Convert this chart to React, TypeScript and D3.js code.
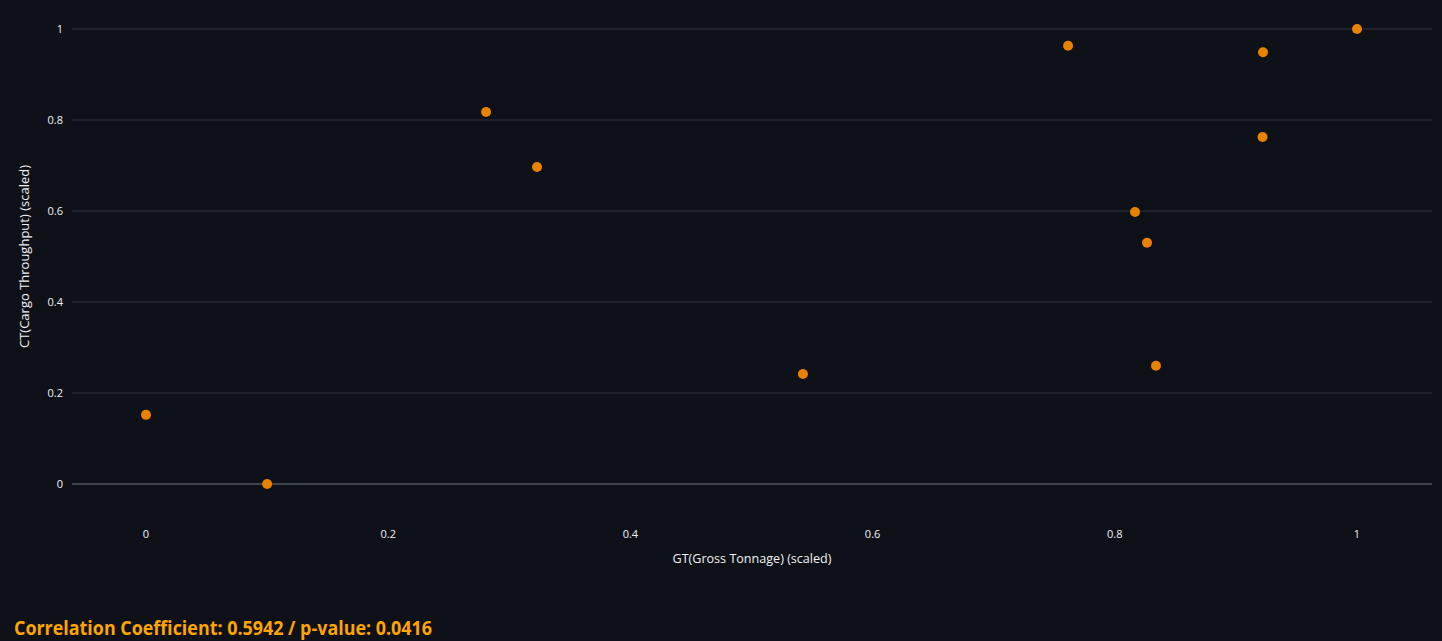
import React from "react";
import * as d3 from "d3";

const gtScaled = [0, 0.1, 0.2808, 0.3229, 0.5425, 0.7614, 0.8167, 0.8266, 0.834, 0.9224, 0.922, 1];
const ctScaled = [0.152, 0, 0.8176, 0.6967, 0.2418, 0.9633, 0.5978, 0.5303, 0.26, 0.9488, 0.7626, 1];
const xTicks = [0, 0.2, 0.4, 0.6, 0.8, 1];
const yTicks = [0, 0.2, 0.4, 0.6, 0.8, 1];
const xTitle = "GT(Gross Tonnage) (scaled)";
const yTitle = "CT(Cargo Throughput) (scaled)";
const caption = "Correlation Coefficient: 0.5942 / p-value: 0.0416";

const W = 1442;
const H = 641;
const FONT = "'Source Sans Pro', 'Open Sans', 'Noto Sans', sans-serif";

export default function App() {
  const x = d3.scaleLinear().domain([0, 1]).range([146, 1357]);
  const y = d3.scaleLinear().domain([0, 1]).range([484, 29]);
  const plotLeft = 72;
  const plotRight = 1432;
  const fmt = (v: number) => d3.format("~g")(v);
  return (
    <svg
      width={W}
      height={H}
      style={{ position: "absolute", left: 0, top: 0, background: "#0e1117", display: "block" }}
    >
      <rect x={0} y={0} width={W} height={H} fill="#0e1117" />
      {yTicks.map((t) => (
        <g key={"y" + t}>
          <line
            x1={plotLeft}
            x2={plotRight}
            y1={y(t)}
            y2={y(t)}
            stroke={t === 0 ? "#40424d" : "#31333f"}
            strokeWidth={t === 0 ? 2 : 1}
          />
          <text
            x={63}
            y={y(t)}
            dy="0.35em"
            textAnchor="end"
            fontFamily={FONT}
            fontSize={11}
            fill="#f0f2f6"
          >
            {fmt(t)}
          </text>
        </g>
      ))}
      {xTicks.map((t) => (
        <text
          key={"x" + t}
          x={x(t)}
          y={534}
          dy="0.35em"
          textAnchor="middle"
          fontFamily={FONT}
          fontSize={11}
          fill="#f0f2f6"
        >
          {fmt(t)}
        </text>
      ))}
      <text
        x={(plotLeft + plotRight) / 2}
        y={558}
        dy="0.35em"
        textAnchor="middle"
        fontFamily={FONT}
        fontSize={13}
        fill="#f0f2f6"
        textLength={159}
        lengthAdjust="spacingAndGlyphs"
      >
        {xTitle}
      </text>
      <text
        transform={`translate(24, ${(29 + 484) / 2}) rotate(-90)`}
        dy="0.35em"
        textAnchor="middle"
        fontFamily={FONT}
        fontSize={13}
        fill="#f0f2f6"
      >
        {yTitle}
      </text>
      {gtScaled.map((g, i) => (
        <circle key={"p" + i} cx={x(g)} cy={y(ctScaled[i])} r={5} fill="#e98203" />
      ))}
      <text
        x={14}
        y={635}
        fontFamily={FONT}
        fontSize={19}
        fontWeight={700}
        fill="#ffa500"
        textLength={418}
        lengthAdjust="spacingAndGlyphs"
      >
        {caption}
      </text>
    </svg>
  );
}
